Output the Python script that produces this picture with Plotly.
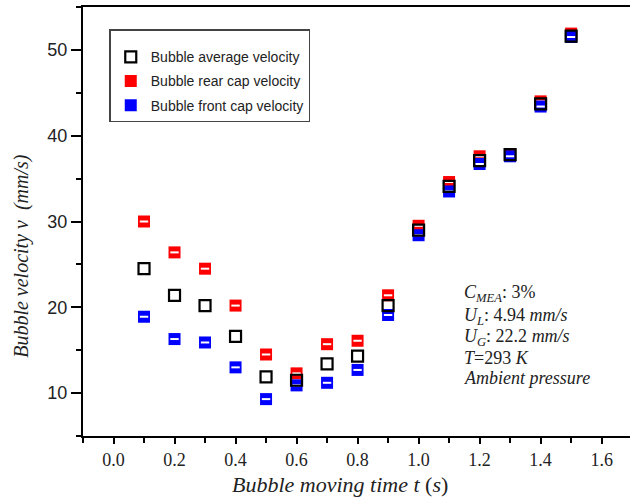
import plotly.graph_objects as go

# ---- data ----
time_s = [0.1, 0.2, 0.3, 0.4, 0.5, 0.6, 0.7, 0.8, 0.9, 1.0, 1.1, 1.2, 1.3, 1.4, 1.5]
avg_velocity = [24.5, 21.4, 20.2, 16.6, 11.9, 11.5, 13.4, 14.3, 20.2, 29.0, 34.1, 37.1, 37.8, 43.7, 51.6]
rear_velocity = [30.0, 26.4, 24.5, 20.2, 14.5, 12.3, 15.7, 16.1, 21.4, 29.5, 34.6, 37.6, 37.8, 44.0, 51.9]
front_velocity = [18.9, 16.3, 15.9, 13.0, 9.3, 10.9, 11.2, 12.7, 19.1, 28.4, 33.5, 36.7, 37.6, 43.4, 51.5]
series_names = ["Bubble average velocity", "Bubble rear cap velocity", "Bubble front cap velocity"]
x_ticks = [0.0, 0.2, 0.4, 0.6, 0.8, 1.0, 1.2, 1.4, 1.6]
y_ticks = [10, 20, 30, 40, 50]

SERIF = "Liberation Serif"
SANS = "Liberation Sans"

fig = go.Figure()

# rear cap (red)
fig.add_trace(go.Scatter(
    x=time_s, y=rear_velocity, mode="markers", name=series_names[1],
    legendrank=2, legendgroup="r",
    marker=dict(symbol="square", size=12, color="#ff0000", line=dict(width=0)),
))
fig.add_trace(go.Scatter(
    x=time_s, y=rear_velocity, mode="markers", showlegend=False, hoverinfo="skip",
    marker=dict(symbol="line-ew", size=6, color="white", line=dict(width=2, color="white")),
))
# front cap (blue)
fig.add_trace(go.Scatter(
    x=time_s, y=front_velocity, mode="markers", name=series_names[2],
    legendrank=3, legendgroup="f",
    marker=dict(symbol="square", size=12, color="#0000ff", line=dict(width=0)),
))
fig.add_trace(go.Scatter(
    x=time_s, y=front_velocity, mode="markers", showlegend=False, hoverinfo="skip",
    marker=dict(symbol="line-ew", size=6, color="white", line=dict(width=2, color="white")),
))
# average (black open)
fig.add_trace(go.Scatter(
    x=time_s, y=avg_velocity, mode="markers", name=series_names[0],
    legendrank=1, legendgroup="a",
    marker=dict(symbol="square-open", size=11, color="black", line=dict(width=2.2, color="black")),
))

axis_common = dict(
    showline=True, linecolor="black", linewidth=2,
    ticks="outside", tickcolor="black", tickwidth=1.5,
    showgrid=False, zeroline=False,
)

fig.update_xaxes(
    range=[-0.1, 1.693], tickvals=x_ticks, ticktext=[f"{v:.1f}" for v in x_ticks],
    ticklen=6, mirror=True,
    minor=dict(dtick=0.1, tick0=0, ticks="outside", ticklen=5, tickcolor="black", tickwidth=1.5),
    tickfont=dict(family=SERIF, size=18, color="#222"),
    **axis_common,
)
fig.update_yaxes(
    range=[5, 55], tickvals=y_ticks, ticklen=10,
    minor=dict(dtick=5, tick0=5, ticks="outside", ticklen=5, tickcolor="black", tickwidth=1.5),
    tickfont=dict(family=SANS, size=18, color="#222"),
    **axis_common,
)

ann = []
ann.append(dict(text="<i>Bubble moving time t</i> (<i>s</i>)", xref="paper", yref="paper",
                x=0.47, y=-0.112, xanchor="center", yanchor="middle", showarrow=False,
                font=dict(family=SERIF, size=22, color="#222")))
ann.append(dict(text="<i>Bubble velocity v</i>  <i>(mm/s)</i>", xref="paper", yref="paper",
                x=-0.1115, y=0.42, xanchor="center", yanchor="middle", textangle=-90, showarrow=False,
                font=dict(family=SERIF, size=20, color="#222")))

cond_lines = [
    "<i>C<sub>MEA</sub></i>: 3%",
    "<i>U<sub>L</sub></i>: 4.94 <i>mm/s</i>",
    "<i>U<sub>G</sub></i>: 22.2 <i>mm/s</i>",
    "<i>T</i>=293 <i>K</i>",
    "<i>Ambient pressure</i>",
]
cond_y = [0.333, 0.279, 0.229, 0.182, 0.135]
for txt, yy in zip(cond_lines, cond_y):
    ann.append(dict(text=txt, xref="paper", yref="paper", x=0.692, y=yy,
                    xanchor="left", yanchor="middle", showarrow=False,
                    font=dict(family=SERIF, size=18, color="#222")))

fig.update_layout(
    width=630, height=502,
    margin=dict(l=83, r=0, t=7, b=66),
    paper_bgcolor="white", plot_bgcolor="white",
    annotations=ann,
    legend=dict(
        x=0.048, y=0.948, xanchor="left", yanchor="top",
        bgcolor="white", bordercolor="#444", borderwidth=1.5,
        font=dict(family=SANS, size=14, color="#222"),
        traceorder="grouped", tracegroupgap=3,
        title=dict(text=" ", font=dict(size=8)),
        entrywidth=205, entrywidthmode="pixels",
    ),
    showlegend=True,
)

fig.write_html("out.html")
